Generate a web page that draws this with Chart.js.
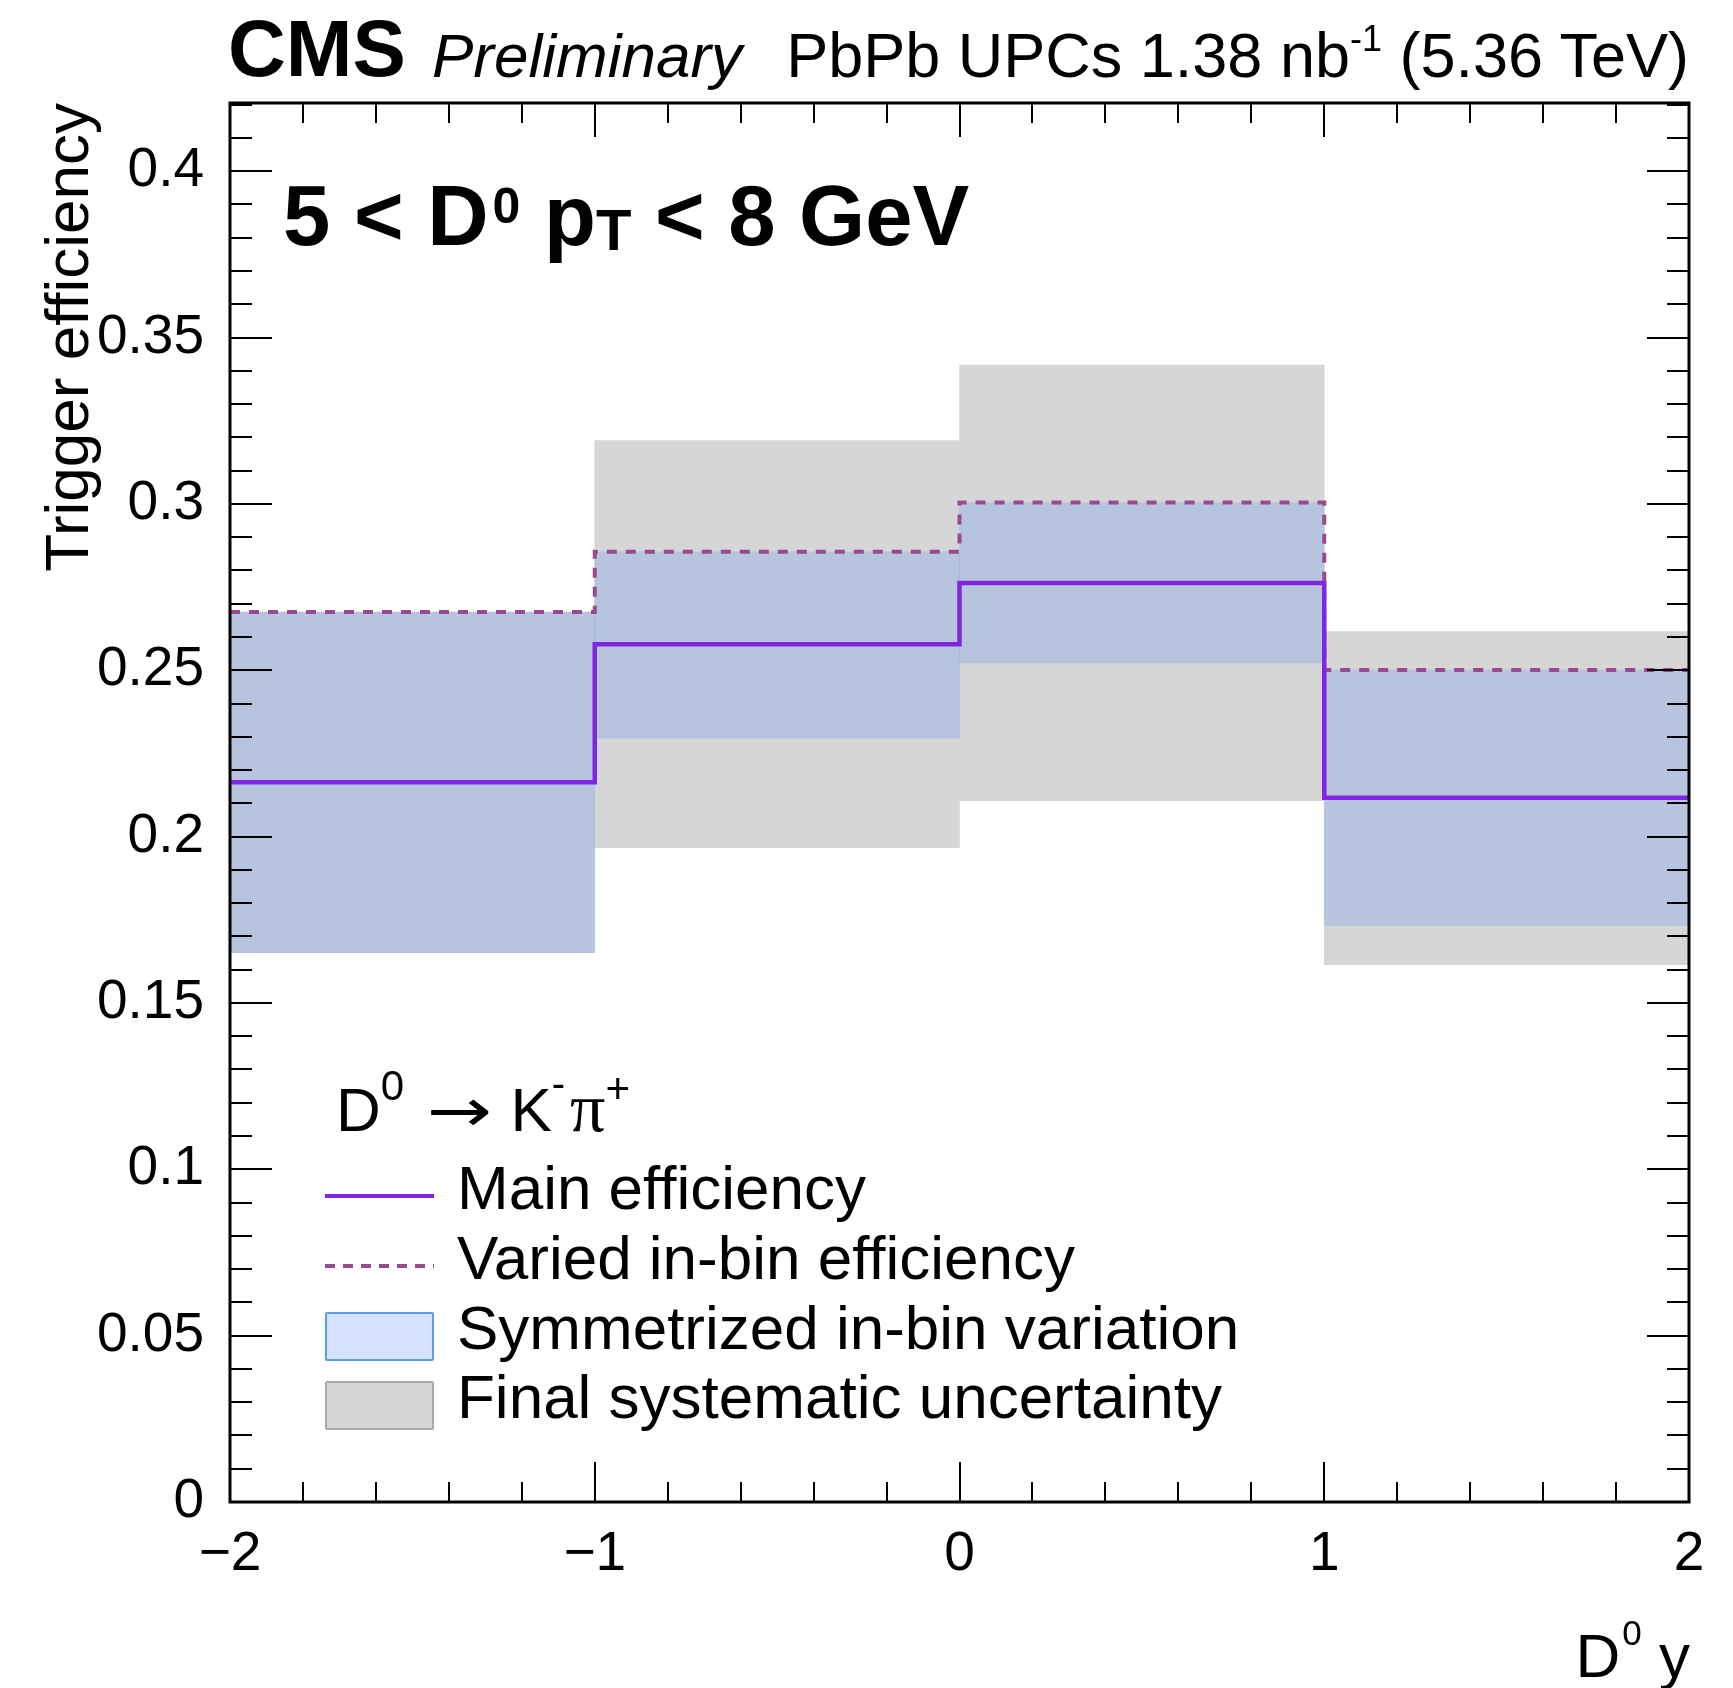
<!DOCTYPE html>
<html><head><meta charset="utf-8">
<script src="https://cdn.jsdelivr.net/npm/chart.js@4.4.1/dist/chart.umd.min.js"></script>
<style>
html,body{margin:0;padding:0;background:#fff;}
#wrap{position:relative;width:1733px;height:1688px;overflow:hidden;font-family:"Liberation Sans",Arial,Helvetica,sans-serif;color:#000;}
canvas{position:absolute;left:0;top:0;}
.t{position:absolute;white-space:nowrap;line-height:1;}
.r{position:relative;}
.sym{position:absolute;box-sizing:border-box;}
</style></head><body>
<div id="wrap">
<canvas id="c" width="1733" height="1688"></canvas>

<div class="t" style="left:228px;top:9px;font-size:80px;font-weight:bold;">CMS</div>
<div class="t" style="left:432px;top:24.5px;font-size:62px;font-style:italic;">Preliminary</div>
<div class="t" style="right:44px;top:23.5px;font-size:63px;">PbPb UPCs 1.38 nb<span class="r" style="font-size:36px;top:-26px;">-1</span> (5.36 TeV)</div>

<div class="t" style="left:283px;top:173px;font-size:85px;font-weight:bold;">5 &lt; D<span class="r" style="font-size:50px;top:-22px;margin-left:4px;">0</span> p<span class="r" style="font-size:58px;top:5px;">T</span> &lt; 8 GeV</div>

<div class="t" style="left:35.5px;top:703px;width:600px;text-align:right;font-size:62px;transform-origin:0 0;transform:rotate(-90deg);">Trigger efficiency</div>
<div class="t" style="right:43px;top:1624.5px;font-size:62px;">D<span class="r" style="font-size:35px;top:-32px;margin-left:2px;">0</span> y</div>

<div class="t" style="left:336px;top:1072.5px;font-size:62px;">D<span class="r" style="font-size:42px;top:-31px;">0</span><span style="display:inline-block;font-family:'DejaVu Sans',sans-serif;font-size:60px;margin-left:23px;margin-right:13px;transform-origin:0 50%;transform:scaleX(1.3);">→</span><span style="margin-left:20px;">K</span><span class="r" style="font-size:40px;top:-34px;margin-right:5px;">-</span><span style="font-family:'Liberation Serif',serif;font-size:70px;">π</span><span class="r" style="font-size:42px;top:-28px;">+</span></div>

<div class="sym" style="left:325px;top:1194px;width:109px;height:4px;background:#8026e0;"></div>
<div class="sym" style="left:325px;top:1264px;width:109px;height:4px;background:repeating-linear-gradient(90deg,#994a8e 0 10px,transparent 10px 18px);"></div>
<div class="sym" style="left:325px;top:1312px;width:109px;height:49px;border:2px solid #5b9bf0;background:#d4e2fc;border-radius:2px;"></div>
<div class="sym" style="left:325px;top:1381px;width:109px;height:49px;border:2px solid #a9a9a9;background:#d6d6d6;border-radius:2px;"></div>

<div class="t" style="left:457px;top:1157px;font-size:62px;">Main efficiency</div>
<div class="t" style="left:457px;top:1227px;font-size:62px;">Varied in-bin efficiency</div>
<div class="t" style="left:457px;top:1296.5px;font-size:62px;">Symmetrized in-bin variation</div>
<div class="t" style="left:457px;top:1366px;font-size:62px;">Final systematic uncertainty</div>
</div>

<script>
// ---- data ----
const binEdges   = [-2, -1, 0, 1, 2];
const mainEff    = [0.2163, 0.2578, 0.2762, 0.2117];
const variedEff  = [0.2675, 0.2856, 0.3004, 0.2501];
const symLow     = [0.1651, 0.2296, 0.2522, 0.1732];
const symHigh    = [0.2675, 0.2856, 0.3004, 0.2501];
const sysLow     = [0.1651, 0.1967, 0.2108, 0.1615];
const sysHigh    = [0.2675, 0.3190, 0.3417, 0.2616];
const yTickValues = [0, 0.05, 0.1, 0.15, 0.2, 0.25, 0.3, 0.35, 0.4];
const yTickLabels = ['0', '0.05', '0.1', '0.15', '0.2', '0.25', '0.3', '0.35', '0.4'];
const xTickValues = [-2, -1, 0, 1, 2];
const xTickLabels = ['\u22122', '\u22121', '0', '1', '2'];
const yMin = 0, yMax = 0.4205;
const xMin = -2, xMax = 2;

// ---- derived structures for the library ----
const centers = binEdges.slice(0, -1).map((e, i) => (e + binEdges[i + 1]) / 2);
const band = (lo, hi) => centers.map((c, i) => ({x: c, y: [lo[i], hi[i]]}));
const steps = vals => binEdges.map((e, i) => ({x: e, y: vals[Math.min(i, vals.length - 1)]}));

const FONT = '"Liberation Sans", Arial, Helvetica, sans-serif';

const framePlugin = {
  id: 'frame',
  afterDatasetsDraw(chart) {
    const {ctx, chartArea: a, scales: {x, y}} = chart;
    ctx.save();
    ctx.strokeStyle = '#000';
    ctx.lineWidth = 2;
    ctx.beginPath();
    for (let i = 1; i <= 42; i++) {
      const v = i / 100;
      if (v > yMax) break;
      const py = Math.round(y.getPixelForValue(v));
      const len = (i % 5 === 0) ? 42 : 22;
      ctx.moveTo(a.left, py); ctx.lineTo(a.left + len, py);
      ctx.moveTo(a.right, py); ctx.lineTo(a.right - len, py);
    }
    for (let i = 1; i < 20; i++) {
      const v = xMin + i * 0.2;
      const px = Math.round(x.getPixelForValue(v));
      const len = (i % 5 === 0) ? 40 : 20;
      ctx.moveTo(px, a.bottom); ctx.lineTo(px, a.bottom - len);
      ctx.moveTo(px, a.top); ctx.lineTo(px, a.top + (i % 5 === 0 ? 34 : 20));
    }
    ctx.stroke();
    ctx.lineWidth = 3;
    ctx.strokeRect(a.left, a.top, a.right - a.left, a.bottom - a.top);
    ctx.restore();
  }
};

new Chart(document.getElementById('c'), {
  type: 'bar',
  data: {
    datasets: [
      {type: 'line', label: 'Main efficiency', data: steps(mainEff), borderColor: '#8026e0',
       borderWidth: 4.5, stepped: true, pointRadius: 0, fill: false, order: 0},
      {type: 'line', label: 'Varied in-bin efficiency', data: steps(variedEff), borderColor: '#994a8e',
       borderWidth: 4, borderDash: [10, 9], stepped: true, pointRadius: 0, fill: false, order: 1},
      {type: 'bar', label: 'Symmetrized in-bin variation', data: band(symLow, symHigh),
       backgroundColor: 'rgba(96,148,245,0.27)', borderWidth: 0, grouped: false,
       barPercentage: 1, categoryPercentage: 1, order: 2},
      {type: 'bar', label: 'Final systematic uncertainty', data: band(sysLow, sysHigh),
       backgroundColor: '#d6d6d6', borderWidth: 0, grouped: false,
       barPercentage: 1, categoryPercentage: 1, order: 3}
    ]
  },
  options: {
    responsive: false,
    devicePixelRatio: 1,
    animation: false,
    events: [],
    layout: {padding: {left: 0, top: 103, right: 44, bottom: 0}},
    plugins: {legend: {display: false}, tooltip: {enabled: false}, title: {display: false}},
    scales: {
      x: {
        type: 'linear', min: xMin, max: xMax, offset: false,
        grid: {display: false, drawTicks: false}, border: {display: false},
        afterBuildTicks: s => { s.ticks = xTickValues.map(v => ({value: v})); },
        afterFit: s => { s.height = 186; },
        ticks: {callback: (v, i) => xTickLabels[i], font: {family: FONT, size: 55}, color: '#000',
                padding: 20, maxRotation: 0, autoSkip: false}
      },
      y: {
        type: 'linear', min: yMin, max: yMax,
        grid: {display: false, drawTicks: false}, border: {display: false},
        afterBuildTicks: s => { s.ticks = yTickValues.map(v => ({value: v})); },
        afterFit: s => { s.width = 230; },
        ticks: {callback: (v, i) => yTickLabels[i], font: {family: FONT, size: 55}, color: '#000',
                padding: 26, autoSkip: false}
      }
    }
  },
  plugins: [framePlugin]
});
</script>
</body></html>
